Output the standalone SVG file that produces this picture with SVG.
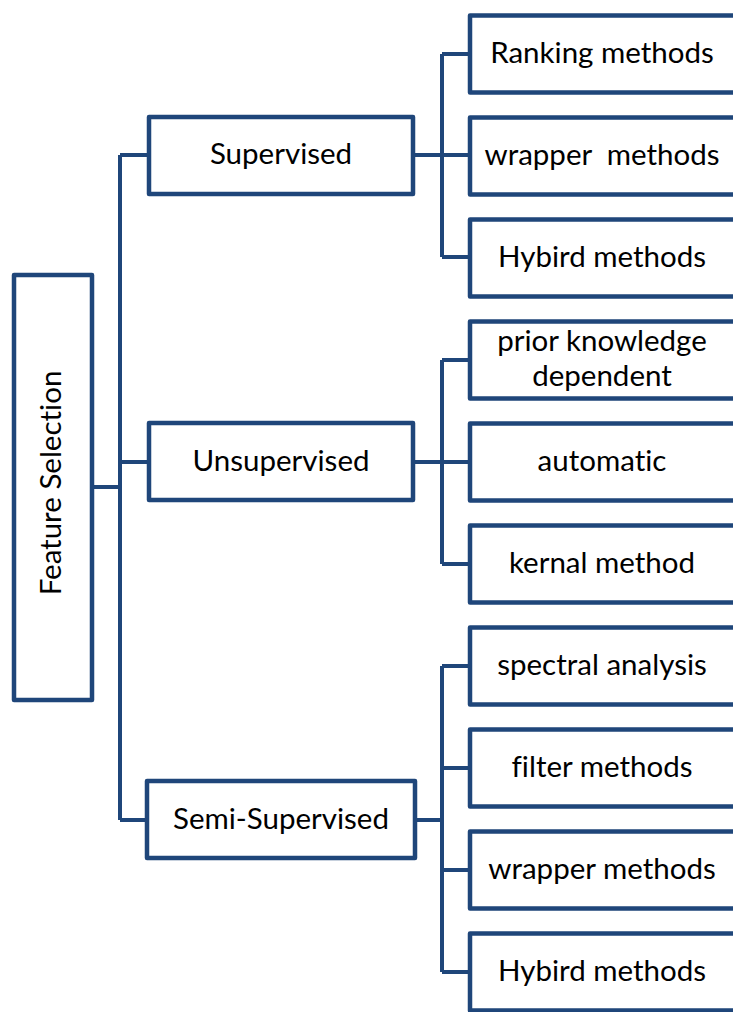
<svg xmlns="http://www.w3.org/2000/svg" width="733" height="1012" viewBox="0 0 733 1012">
  <style>
    .box { fill: #ffffff; stroke: #1F467A; stroke-width: 4.5; stroke-linejoin: round; }
    .wire { fill: none; stroke: #1F467A; stroke-width: 4; stroke-linejoin: miter; }
    .lbl { font-family: Lato, "Open Sans", "Liberation Sans", sans-serif; font-size: 29.5px; fill: #000000; text-anchor: middle; white-space: pre; font-variant-ligatures: none; }
  </style>

  <!-- tree connectors -->
  <g id="connectors" class="wire">
    <!-- root to category trunk -->
    <path d="M94,487 H120"/>
    <path d="M120,155 V820"/>
    <path d="M120,155 H147"/>
    <path d="M120,462 H147"/>
    <path d="M120,820 H145"/>
    <!-- Supervised branch -->
    <path d="M415,155 H442"/>
    <path d="M442,54 V257"/>
    <path d="M442,54 H468"/>
    <path d="M442,155 H468"/>
    <path d="M442,257 H468"/>
    <!-- Unsupervised branch -->
    <path d="M415,462 H442"/>
    <path d="M442,360 V564"/>
    <path d="M442,360 H468"/>
    <path d="M442,462 H468"/>
    <path d="M442,564 H468"/>
    <!-- Semi-Supervised branch -->
    <path d="M417,820 H442"/>
    <path d="M442,666 V972"/>
    <path d="M442,666 H468"/>
    <path d="M442,768 H468"/>
    <path d="M442,870 H468"/>
    <path d="M442,972 H468"/>
  </g>

  <!-- root -->
  <g id="feature-selection">
    <rect class="box" x="14" y="275" width="78" height="425"/>
    <text class="lbl" transform="translate(61,483) rotate(-90)" x="0" y="0">Feature Selection</text>
  </g>

  <!-- categories -->
  <g id="supervised">
    <rect class="box" x="149" y="117" width="264" height="77"/>
    <text class="lbl" x="281" y="164">Supervised</text>
  </g>
  <g id="unsupervised">
    <rect class="box" x="149" y="423" width="264" height="77"/>
    <text class="lbl" x="281" y="471">Unsupervised</text>
  </g>
  <g id="semi-supervised">
    <rect class="box" x="147" y="781" width="268" height="77"/>
    <text class="lbl" x="281" y="829">Semi-Supervised</text>
  </g>

  <!-- methods -->
  <g id="ranking-methods">
    <rect class="box" x="470" y="15.5" width="266" height="77"/>
    <text class="lbl" x="602" y="63">Ranking methods</text>
  </g>
  <g id="wrapper-methods-1">
    <rect class="box" x="470" y="117.5" width="266" height="77"/>
    <text class="lbl" x="602" y="165">wrapper  methods</text>
  </g>
  <g id="hybird-methods-1">
    <rect class="box" x="470" y="219.5" width="266" height="77"/>
    <text class="lbl" x="602" y="267">Hybird methods</text>
  </g>
  <g id="prior-knowledge">
    <rect class="box" x="470" y="321.5" width="266" height="77"/>
    <text class="lbl" x="602" y="351">prior knowledge</text>
    <text class="lbl" x="602" y="386">dependent</text>
  </g>
  <g id="automatic">
    <rect class="box" x="470" y="423.5" width="266" height="77"/>
    <text class="lbl" x="602" y="471">automatic</text>
  </g>
  <g id="kernal-method">
    <rect class="box" x="470" y="525.5" width="266" height="77"/>
    <text class="lbl" x="602" y="573">kernal method</text>
  </g>
  <g id="spectral-analysis">
    <rect class="box" x="470" y="627.5" width="266" height="77"/>
    <text class="lbl" x="602" y="675">spectral analysis</text>
  </g>
  <g id="filter-methods">
    <rect class="box" x="470" y="729.5" width="266" height="77"/>
    <text class="lbl" x="602" y="777">filter methods</text>
  </g>
  <g id="wrapper-methods-2">
    <rect class="box" x="470" y="831.5" width="266" height="77"/>
    <text class="lbl" x="602" y="879">wrapper methods</text>
  </g>
  <g id="hybird-methods-2">
    <rect class="box" x="470" y="933.5" width="266" height="77"/>
    <text class="lbl" x="602" y="981">Hybird methods</text>
  </g>
</svg>
